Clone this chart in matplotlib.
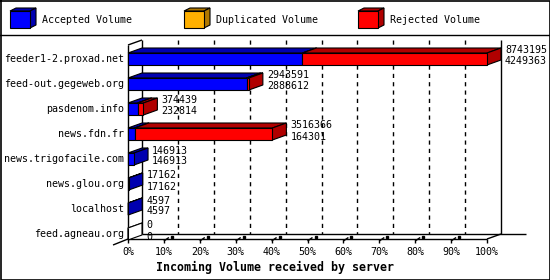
import matplotlib
matplotlib.use("Agg")
import matplotlib.pyplot as plt
from matplotlib.patches import Polygon
from matplotlib.transforms import offset_copy

# data
servers = ["feeder1-2.proxad.net", "feed-out.gegeweb.org", "pasdenom.info",
           "news.fdn.fr", "news.trigofacile.com", "news.glou.org",
           "localhost", "feed.agneau.org"]
total = [8743195, 2943591, 374439, 3516366, 146913, 17162, 4597, 0]
accepted = [4249363, 2888612, 232814, 164301, 146913, 17162, 4597, 0]
duplicated = [0, 0, 0, 0, 0, 0, 0, 0]
rejected = [4493832, 54979, 141625, 3352065, 0, 0, 0, 0]

series_names = ["Accepted Volume", "Duplicated Volume", "Rejected Volume"]
front_colors = ["#0000ff", "#ffb000", "#ff0000"]
dark_colors = ["#0000b0", "#b07800", "#b00000"]

pct_ticks = [0, 10, 20, 30, 40, 50, 60, 70, 80, 90, 100]
tick_labels = ["%d%%" % p for p in pct_ticks]
xlabel = "Incoming Volume received by server"

# layout, in pixels
W, H = 550, 280
AX_L, AX_R, AX_T, AX_B = 128, 487, 45, 239
ROW0, PITCH = 56.5, 25.0
DEPTH_X, DEPTH_Y = 14, 5

FONT = "DejaVu Sans Mono"
FS = 7.2

fig = plt.figure(figsize=(W / 100, H / 100), dpi=100)

# background axes in pixel coords (frame + legend)
bg = fig.add_axes([0, 0, 1, 1], zorder=0)
bg.set_xlim(0, W)
bg.set_ylim(H, 0)
bg.axis("off")
bg.plot([0.5, W - 0.5, W - 0.5, 0.5, 0.5], [0.5, 0.5, H - 0.5, H - 0.5, 0.5],
        color="black", lw=1.2)
bg.plot([0, W], [35, 35], color="black", lw=1)

leg_x = [10, 184, 358]
for lx, name, fc, dc in zip(leg_x, series_names, front_colors, dark_colors):
    x0, x1, y0, y1 = lx, lx + 20, 11, 28
    bg.add_patch(Polygon([(x0, y0), (x1, y0), (x1 + 6, y0 - 3), (x0 + 6, y0 - 3)],
                         fc=dc, ec="black", lw=0.8))
    bg.add_patch(Polygon([(x1, y0), (x1 + 6, y0 - 3), (x1 + 6, y1 - 3), (x1, y1)],
                         fc=dc, ec="black", lw=0.8))
    bg.add_patch(Polygon([(x0, y0), (x1, y0), (x1, y1), (x0, y1)],
                         fc=fc, ec="black", lw=0.8))
    bg.text(lx + 32, 20, name, family=FONT, fontsize=FS, va="center", ha="left")

# chart axes: x = percent of biggest server, y = row index
ax = fig.add_axes([AX_L / W, 1 - AX_B / H, (AX_R - AX_L) / W, (AX_B - AX_T) / H],
                  zorder=1)
ax.patch.set_visible(False)
ax.axis("off")
y_top = (AX_T - ROW0) / PITCH
y_bot = (AX_B - ROW0) / PITCH
ax.set_xlim(0, 100)
ax.set_ylim(y_bot, y_top)

sx = (AX_R - AX_L) / 100.0
DX = DEPTH_X / sx
DY = DEPTH_Y / PITCH
EXT = 25 / sx

line_kw = dict(color="black", lw=1, clip_on=False, solid_capstyle="butt")

# back wall grid
for p in pct_ticks[1:-1]:
    ax.plot([p + DX, p + DX], [y_top - DY, y_bot - DY], color="black", lw=1,
            dashes=(3, 3), clip_on=False, zorder=1)

# walls and floor
ax.plot([0, 0], [y_top, y_bot], **line_kw)
ax.plot([DX, DX], [y_top - DY, y_bot - DY], **line_kw)
ax.plot([0, DX], [y_top, y_top - DY], **line_kw)
ax.plot([0, 100], [y_bot, y_bot], **line_kw)
ax.plot([DX, 100 + DX + EXT], [y_bot - DY, y_bot - DY], **line_kw)
ax.plot([100, 100 + DX], [y_bot, y_bot - DY], **line_kw)
ax.plot([100 + DX, 100 + DX], [y_top - DY, y_bot - DY], **line_kw)
ax.plot([0, -DX * 1.07], [y_bot, y_bot + DY * 1.2], **line_kw)

# ticks on the floor
tick_t = offset_copy(ax.get_xaxis_transform(), fig=fig, y=-13, units="dots")
for p, lab in zip(pct_ticks, tick_labels):
    ax.plot([p, p], [y_bot, y_bot + 4 / PITCH], **line_kw)
    if 0 < p < 100:
        ax.plot([p, p + 5 / sx], [y_bot + 2 / PITCH, y_bot - 1.5 / PITCH], **line_kw)
        ax.plot([p + 8 / sx], [y_bot - 2.5 / PITCH], marker="s", ms=1.8,
                color="black", clip_on=False)
    ax.text(p, 0, lab, transform=tick_t, family=FONT, fontsize=FS,
            ha="center", va="center")


def box(x0, x1, yt, yb, fc, dc, z):
    ax.add_patch(Polygon([(x0, yt), (x1, yt), (x1 + DX, yt - DY), (x0 + DX, yt - DY)],
                         fc=dc, ec="black", lw=0.8, zorder=z, clip_on=False))
    ax.add_patch(Polygon([(x1, yt), (x1 + DX, yt - DY), (x1 + DX, yb - DY), (x1, yb)],
                         fc=dc, ec="black", lw=0.8, zorder=z, clip_on=False))
    ax.add_patch(Polygon([(x0, yt), (x1, yt), (x1, yb), (x0, yb)],
                         fc=fc, ec="black", lw=0.8, zorder=z + 0.5, clip_on=False))


vmax = max(total)
name_t = offset_copy(ax.transData, fig=fig, x=-4, y=-2.5, units="dots")
top_t = offset_copy(ax.transData, fig=fig, x=18, y=6, units="dots")
low_t = offset_copy(ax.transData, fig=fig, x=18, y=-5, units="dots")

for i, name in enumerate(servers):
    yt = i - 3.5 / PITCH
    yb = i + 8.5 / PITCH
    z = 3 + i
    if total[i] == 0:
        box(0, 0, yt, yb, "white", "white", z)
    else:
        start = 0.0
        for k, vals in enumerate([accepted, duplicated, rejected]):
            if vals[i] <= 0:
                continue
            w = vals[i] / vmax * 100
            box(start, start + w, yt, yb, front_colors[k], dark_colors[k], z + k * 0.01)
            start += w
    end = total[i] / vmax * 100
    ax.text(0, i, name, transform=name_t, family=FONT, fontsize=FS,
            ha="right", va="center")
    ax.text(end, i, str(total[i]), transform=top_t, family=FONT, fontsize=FS,
            ha="left", va="center", zorder=20)
    ax.text(end, i, str(accepted[i]), transform=low_t, family=FONT, fontsize=FS,
            ha="left", va="center", zorder=20)

fig.text(274.5 / W, 1 - 267 / H, xlabel, family=FONT, fontsize=8.4,
         fontweight="bold", ha="center", va="center")

fig.savefig("out.png", dpi=100)
